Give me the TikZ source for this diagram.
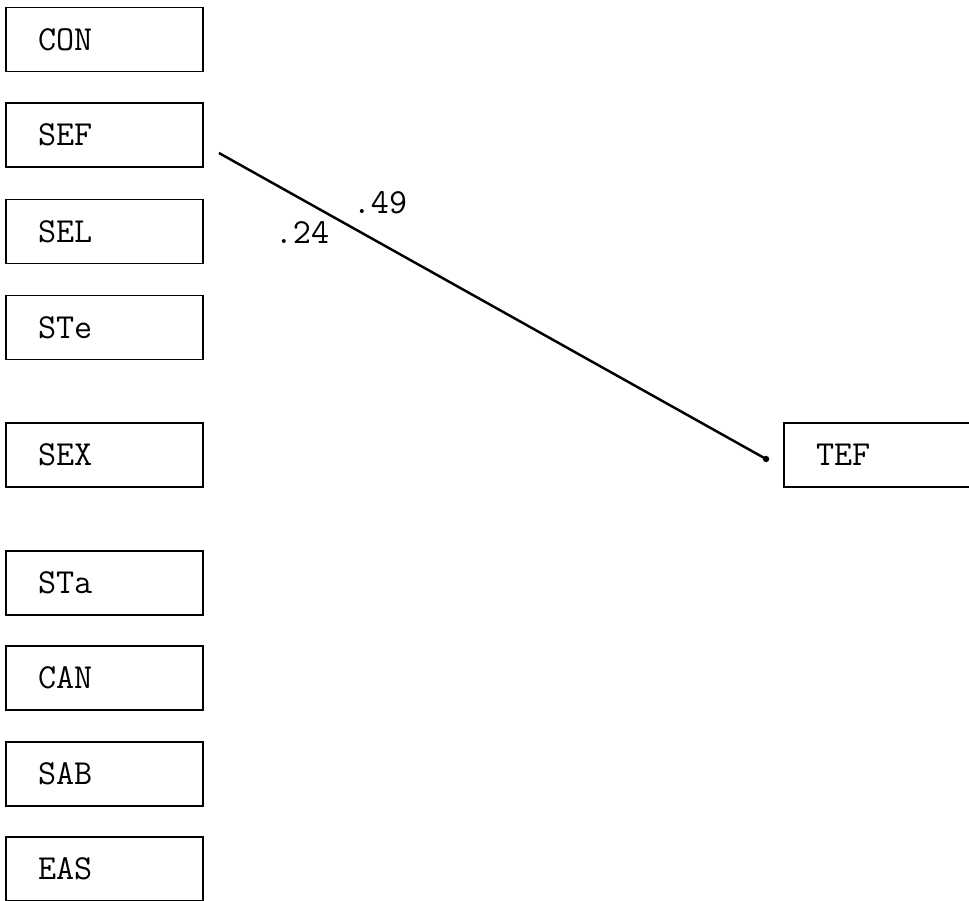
\documentclass[tikz,border=0pt]{standalone}
\usepackage{fontspec}
\usetikzlibrary{positioning}

\begin{document}
\begin{tikzpicture}[x=0.02cm,y=-0.02cm,
var/.style={draw,line width=1.1pt,rectangle,minimum height=1.28cm,text width=2.66cm,
inner xsep=0.64cm,inner ysep=0pt,align=left,font=\ttfamily\fontsize{20}{22}\selectfont},
coef/.style={inner sep=0pt,font=\ttfamily\fontsize{20}{22}\selectfont}]
\useasboundingbox (0,0) rectangle (969,901);
\clip (0,0) rectangle (969,901);
\node[var] (CON) at (104.5,39.5) {CON};
\node[var] (SEF) at (104.5,135) {SEF};
\node[var] (SEL) at (104.5,231.5) {SEL};
\node[var] (STe) at (104.5,327.5) {STe};
\node[var] (SEX) at (104.5,455) {SEX};
\node[var] (STa) at (104.5,583) {STa};
\node[var] (CAN) at (104.5,678) {CAN};
\node[var] (SAB) at (104.5,774) {SAB};
\node[var] (EAS) at (104.5,869) {EAS};
\node[var] (TEF) at (882.5,455) {TEF};
\draw[line width=1.4pt] ([shift={(15,18)}]SEF.east) -- ([shift={(-17,4)}]TEF.west) coordinate (tip);
\fill (tip) circle [radius=1.8pt];
\node[coef] (b49) at (380,203) {.49};
\node[coef] (b24) at (302,233) {.24};
\end{tikzpicture}
\end{document}
